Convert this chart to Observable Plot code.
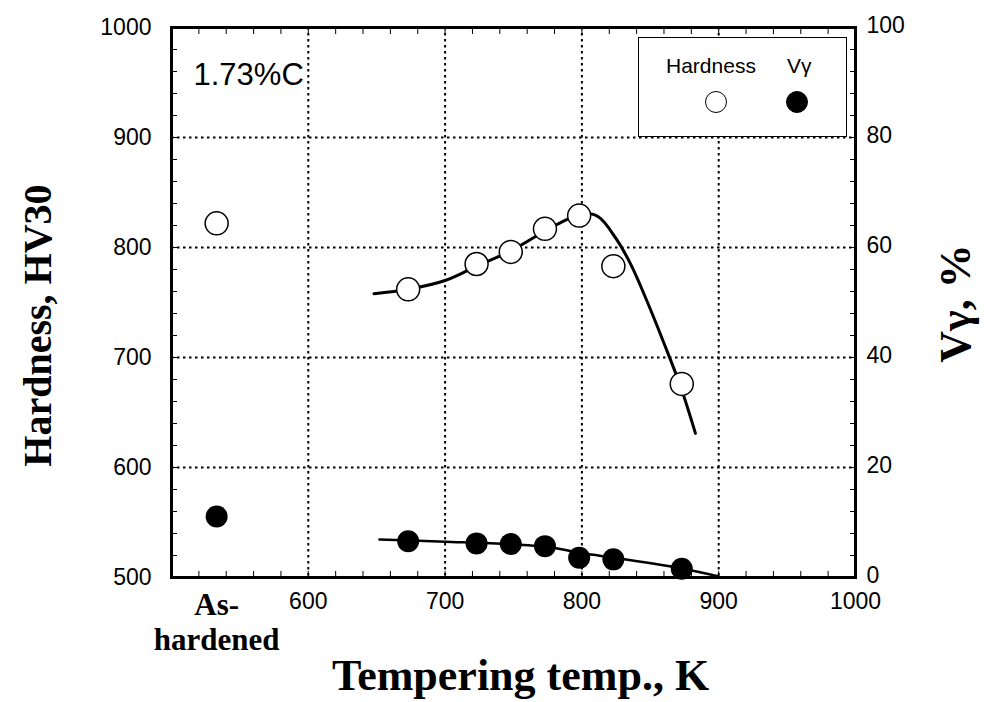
<!DOCTYPE html>
<html><head><meta charset="utf-8">
<script src="https://cdn.jsdelivr.net/npm/d3@7"></script>
<script src="https://cdn.jsdelivr.net/npm/@observablehq/plot@0.6"></script>
<style>
body{margin:0;background:#fff;}
#wrap{position:relative;width:984px;height:702px;}
svg{font-family:"Liberation Sans",Arial,sans-serif;}
#legend{position:absolute;left:638px;top:37px;width:207px;height:98px;border:1.5px solid #000;background:#fff;font-family:"Liberation Sans",Arial,sans-serif;}
#legend .t{position:absolute;top:16px;font-size:21px;}
#legend .c{position:absolute;top:53px;width:20px;height:20px;border-radius:50%;border:1.5px solid #000;}
</style>
</head><body><div id="wrap"><div id="chart"></div>
<div id="legend"><span class="t" style="left:27px">Hardness</span><span class="t" style="left:148px">V&gamma;</span>
<div class="c" style="left:66px;background:#fff"></div><div class="c" style="left:147px;background:#000"></div></div>
</div>
<script>
// data
const temps = [673, 723, 748, 773, 798, 823, 873];
const hardness = [762, 785, 796, 817, 829, 783, 676];
const vgamma = [6.6, 6.2, 6.1, 5.7, 3.6, 3.3, 1.6];
const asHardenedX = 533;
const asHardenedHardness = 822;
const asHardenedVgamma = 11.1;
const hardCurveT = [648, 673, 700, 723, 748, 773, 790, 800, 812, 825, 836, 848, 860, 872, 883];
const hardCurveV = [758, 762, 770, 783, 797, 815, 826, 831, 828, 808, 784, 750, 713, 674, 631];
const vgCurveT = [652, 700, 750, 776, 801, 826, 874, 900];
const vgCurveV = [6.9, 6.5, 6.0, 5.5, 4.4, 3.5, 1.6, 0.2];
const xTicks = [600, 700, 800, 900, 1000];
const yTicks = [500, 600, 700, 800, 900, 1000];
const vgTicks = [0, 20, 40, 60, 80, 100];
const gridX = [600, 700, 800, 900];
const gridY = [600, 700, 800, 900];
const minorX = d3.range(500, 1001, 20);
const minorY = d3.range(500, 1001, 20);

const vToY = v => 500 + 5 * v; // right axis 0..100 % maps onto 500..1000 HV
const hardPts = temps.map((t, i) => ({t, h: hardness[i]}));
const vgPts = temps.map((t, i) => ({t, v: vgamma[i]}));
const hardCurve = hardCurveT.map((t, i) => ({t, h: hardCurveV[i]}));
const vgCurve = vgCurveT.map((t, i) => ({t, v: vgCurveV[i]}));

const titleFont = {fontFamily: "Liberation Serif, Times New Roman, serif", fontWeight: "bold", fill: "#000"};

const plot = Plot.plot({
  width: 984, height: 702,
  marginLeft: 171, marginRight: 129, marginTop: 27, marginBottom: 125,
  x: {domain: [500, 1000]},
  y: {domain: [500, 1000]},
  marks: [
    Plot.gridX(gridX, {stroke: "#000", strokeOpacity: 1, strokeWidth: 2, strokeDasharray: "2.5,3.5"}),
    Plot.gridY(gridY, {stroke: "#000", strokeOpacity: 1, strokeWidth: 2, strokeDasharray: "2.5,3.5"}),
    Plot.axisX(minorX, {anchor: "bottom", tickSize: -6, tickFormat: () => "", label: null, strokeWidth: 1}),
    Plot.axisX(minorX, {anchor: "top", tickSize: -6, tickFormat: () => "", label: null, strokeWidth: 1}),
    Plot.axisY(minorY, {anchor: "left", tickSize: -6, tickFormat: () => "", label: null, strokeWidth: 1}),
    Plot.axisY(minorY, {anchor: "right", tickSize: -6, tickFormat: () => "", label: null, strokeWidth: 1}),
    Plot.axisX(xTicks, {anchor: "bottom", tickSize: 0, tickPadding: 15, fontSize: 23, label: null, tickFormat: d => String(d)}),
    Plot.axisY(yTicks, {anchor: "left", tickSize: 0, tickPadding: 20, fontSize: 23, label: null, tickFormat: d => String(d)}),
    Plot.axisY(vgTicks.map(vToY), {anchor: "right", tickSize: 0, tickPadding: 11, fontSize: 23, label: null, dy: -2, tickFormat: d => String((d - 500) / 5)}),
    Plot.line(hardCurve, {x: "t", y: "h", curve: "catmull-rom", stroke: "#000", strokeWidth: 3}),
    Plot.line(vgCurve, {x: "t", y: d => vToY(d.v), curve: "catmull-rom", stroke: "#000", strokeWidth: 2.5}),
    Plot.dot(hardPts, {x: "t", y: "h", r: 11.5, fill: "#fff", stroke: "#000", strokeWidth: 1.5}),
    Plot.dot(vgPts, {x: "t", y: d => vToY(d.v), r: 11, fill: "#000"}),
    Plot.dot([asHardenedHardness], {x: () => asHardenedX, y: d => d, r: 11.5, fill: "#fff", stroke: "#000", strokeWidth: 1.5}),
    Plot.dot([asHardenedVgamma], {x: () => asHardenedX, y: d => vToY(d), r: 11, fill: "#000"}),
    Plot.frame({stroke: "#000", strokeWidth: 3}),
    Plot.text(["As-\nhardened"], {x: () => asHardenedX, frameAnchor: "bottom", lineAnchor: "top", dy: 12, lineHeight: 1.15, fontSize: 31, ...titleFont}),
    Plot.text(["1.73%C"], {frameAnchor: "top-left", textAnchor: "start", lineAnchor: "middle", dx: 22, dy: 48, fontSize: 31, fontFamily: "Liberation Sans, Arial, sans-serif", fill: "#000"}),
    Plot.text(["Tempering temp., K"], {frameAnchor: "bottom", lineAnchor: "middle", dx: 7, dy: 98, fontSize: 44, ...titleFont}),
    Plot.text(["Hardness, HV30"], {frameAnchor: "left", textAnchor: "middle", rotate: -90, dx: -133, dy: 23, fontSize: 40, ...titleFont}),
    Plot.text(["V\u03b3, %"], {frameAnchor: "right", textAnchor: "middle", rotate: -90, dx: 100, dy: 1, fontSize: 44, ...titleFont})
  ]
});
document.getElementById("chart").appendChild(plot);
</script>
</body></html>
